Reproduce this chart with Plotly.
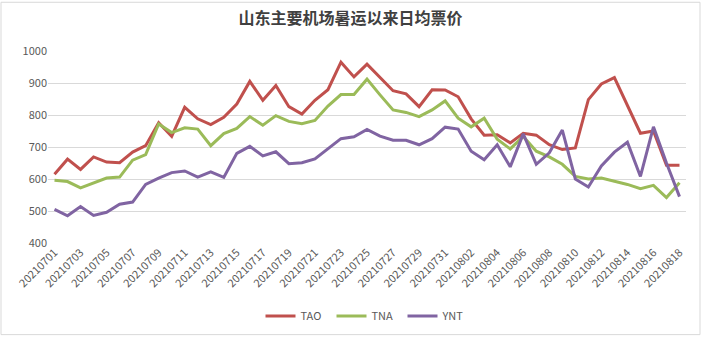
import plotly.graph_objects as go
from datetime import date, timedelta

dates = [(date(2021, 7, 1) + timedelta(days=i)).strftime("%Y%m%d") for i in range(49)]

tao = [615, 662, 630, 669, 653, 651, 684, 704, 776, 733, 824, 788, 770, 793, 834,
       905, 846, 892, 826, 803, 846, 879, 965, 919, 959, 919, 876, 866, 826, 879,
       878, 857, 788, 737, 738, 713, 743, 737, 707, 692, 697, 848, 897, 917, 831,
       743, 750, 643, 643]
tna = [596, 592, 572, 588, 603, 606, 659, 676, 772, 745, 760, 756, 704, 742, 758,
       795, 768, 798, 780, 773, 783, 828, 864, 864, 912, 863, 816, 808, 795, 816,
       844, 790, 763, 790, 724, 694, 733, 687, 669, 646, 608, 600, 603, 593, 583,
       570, 580, 542, 588]
ynt = [505, 485, 514, 486, 496, 521, 528, 583, 603, 620, 625, 606, 622, 605, 680,
       702, 672, 685, 648, 651, 663, 695, 726, 732, 755, 734, 721, 721, 707, 726,
       762, 756, 687, 660, 707, 638, 741, 646, 682, 753, 600, 575, 641, 684, 715,
       608, 763, 650, 545]

series = [("TAO", tao, "#C0504D"), ("TNA", tna, "#9BBB59"), ("YNT", ynt, "#8064A2")]

fig = go.Figure()
for name, vals, col in series:
    fig.add_trace(go.Scatter(x=dates, y=vals, mode="lines", name=name,
                             line=dict(color=col, width=3)))

W, H = 701, 343
ml, mr, mt, mb = 48, 15, 51, 95
pw, ph = W - ml - mr, H - mt - mb

fig.update_layout(
    width=W, height=H,
    margin=dict(l=ml, r=mr, t=mt, b=mb),
    paper_bgcolor="white", plot_bgcolor="white",
    font=dict(family="Noto Sans CJK SC, Liberation Sans, sans-serif", size=11, color="#595959"),
    title=dict(text="<b>山东主要机场暑运以来日均票价</b>", x=0.5, xanchor="center",
               y=1 - 18 / H, yanchor="middle",
               font=dict(size=16, color="#404040", family="Noto Sans CJK SC")),
    showlegend=True,
    legend=dict(orientation="h", x=0.5, xanchor="center", y=-(323 - 248) / ph, yanchor="middle",
                font=dict(size=11, color="#595959"), itemwidth=30, entrywidth=26,
                tracegroupgap=0),
    xaxis=dict(type="category", range=[-0.5, 48.5], tickangle=-45,
               tickvals=dates[::2], ticktext=dates[::2], showgrid=False,
               showline=False, ticks="", tickfont=dict(size=11, color="#595959")),
    yaxis=dict(range=[400, 1000], dtick=100, showgrid=True, gridcolor="#D9D9D9",
               gridwidth=1, zeroline=False, showline=False, ticks="",
               tickfont=dict(size=11, color="#595959")),
    shapes=[dict(type="rect", xref="paper", yref="paper",
                 x0=-(ml - 1) / pw, x1=1 + (mr - 1) / pw,
                 y0=-(mb - 1) / ph, y1=1 + (mt - 1) / ph,
                 line=dict(color="#D9D9D9", width=1), fillcolor="rgba(0,0,0,0)", layer="below")],
)

fig.write_html("out.html")
